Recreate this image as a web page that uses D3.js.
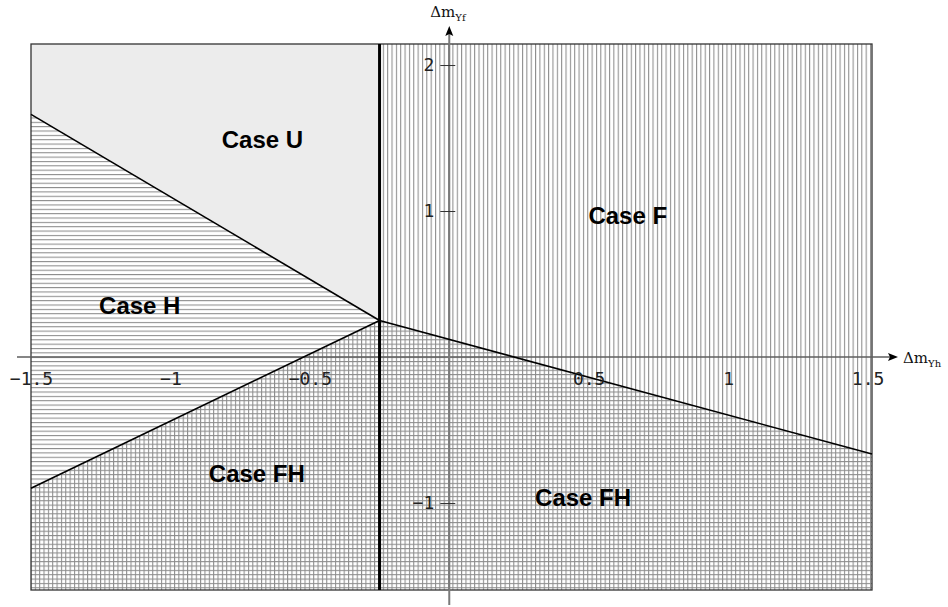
<!DOCTYPE html>
<html>
<head>
<meta charset="utf-8">
<script src="https://cdn.jsdelivr.net/npm/d3@7"></script>
<style>
  html, body { margin: 0; padding: 0; background: #fff; }
  svg { display: block; }
</style>
</head>
<body>
<svg id="chart" width="948" height="607"></svg>
<script>
// Plot window in data units
const xDomain = [-1.5, 1.516];
const yDomain = [-1.596, 2.144];

// Tick values
const xTicks = [-1.5, -1, -0.5, 0.5, 1, 1.5];
const yTicks = [-1, 1, 2];

// Vertical split between the left and right regions
const splitX = -0.25;
// Point where all boundaries meet
const corner = [-0.25, 0.25];
// Boundary lines (each runs from the plot edge to the corner point)
const upperLeftEdge = [[-1.5, 1.662], corner];
const lowerLeftEdge = [[-1.5, -0.899], corner];
const rightEdge = [corner, [1.516, -0.665]];

// Region labels, placed in data coordinates
const caseLabels = ["Case U", "Case F", "Case H", "Case FH", "Case FH"];
const caseLabelX = [-0.67, 0.64, -1.11, -0.69, 0.48];
const caseLabelY = [1.49, 0.97, 0.35, -0.80, -0.96];

const svg = d3.select("#chart");
const x = d3.scaleLinear().domain(xDomain).range([31, 872]);
const y = d3.scaleLinear().domain(yDomain).range([590, 44]);

const [x0, x1] = xDomain, [y0, y1] = yDomain;

// Hatch patterns
const defs = svg.append("defs");
const step = 4.35;
const hatchColor = "#8c8c8c";
function pattern(id, horiz, vert) {
  const p = defs.append("pattern").attr("id", id)
    .attr("patternUnits", "userSpaceOnUse")
    .attr("width", step).attr("height", step);
  p.append("rect").attr("width", step).attr("height", step).attr("fill", "#fff");
  if (horiz) p.append("line").attr("x1", 0).attr("x2", step).attr("y1", 0.5).attr("y2", 0.5)
    .attr("stroke", hatchColor).attr("stroke-width", 1.1);
  if (vert) p.append("line").attr("y1", 0).attr("y2", step).attr("x1", 0.5).attr("x2", 0.5)
    .attr("stroke", hatchColor).attr("stroke-width", 1.1);
}
pattern("hatchH", true, false);
pattern("hatchV", false, true);
pattern("hatchHV", true, true);

// Regions as polygons in data space
const regions = [
  { fill: "#ececec", pts: [[x0, y1], [splitX, y1], corner, upperLeftEdge[0]] },          // U
  { fill: "url(#hatchH)", pts: [upperLeftEdge[0], corner, lowerLeftEdge[0]] },          // H
  { fill: "url(#hatchHV)", pts: [lowerLeftEdge[0], corner, [splitX, y0], [x0, y0]] },   // FH left
  { fill: "url(#hatchV)", pts: [[splitX, y1], [x1, y1], rightEdge[1], corner] },        // F
  { fill: "url(#hatchHV)", pts: [corner, rightEdge[1], [x1, y0], [splitX, y0]] }        // FH right
];
const poly = d3.line().x(d => x(d[0])).y(d => y(d[1]));
svg.append("g").selectAll("path").data(regions).join("path")
  .attr("d", d => poly(d.pts) + "Z")
  .attr("fill", d => d.fill)
  .attr("stroke", "none");

// Plot border
svg.append("rect")
  .attr("x", x(x0)).attr("y", y(y1))
  .attr("width", x(x1) - x(x0)).attr("height", y(y0) - y(y1))
  .attr("fill", "none").attr("stroke", "#333").attr("stroke-width", 1.3);

// Axes through the origin
const axisColor = "#7a7a7a";
svg.append("line")
  .attr("x1", 17).attr("x2", 892).attr("y1", y(0)).attr("y2", y(0))
  .attr("stroke", "#5e5e5e").attr("stroke-width", 1.5);
svg.append("line")
  .attr("x1", x(0)).attr("x2", x(0)).attr("y1", 605).attr("y2", 33)
  .attr("stroke", axisColor).attr("stroke-width", 2);

// Arrow heads
svg.append("path")
  .attr("d", `M${898},${y(0)} L${888},${y(0) - 4} L${890},${y(0)} L${888},${y(0) + 4} Z`)
  .attr("fill", "#000");
svg.append("path")
  .attr("d", `M${x(0)},${26} L${x(0) - 4},${36} L${x(0)},${34} L${x(0) + 4},${36} Z`)
  .attr("fill", "#000");

// Boundary lines
svg.append("g").selectAll("path").data([upperLeftEdge, lowerLeftEdge, rightEdge]).join("path")
  .attr("d", d => poly(d))
  .attr("fill", "none").attr("stroke", "#000").attr("stroke-width", 1.6);

// Thick vertical split
svg.append("line")
  .attr("x1", x(splitX)).attr("x2", x(splitX)).attr("y1", y(y1)).attr("y2", y(y0))
  .attr("stroke", "#000").attr("stroke-width", 3);

// Tick labels via d3 axes
const tickFont = "'DejaVu Sans Mono', monospace";
const fmt = d3.format("");
const gx = svg.append("g").attr("transform", `translate(0,${y(0)})`)
  .call(d3.axisBottom(x).tickValues(xTicks).tickSize(0).tickPadding(15).tickFormat(fmt));
gx.select(".domain").remove();
gx.selectAll("text").attr("font-family", tickFont).attr("font-size", 18).attr("fill", "#222");

const gy = svg.append("g").attr("transform", `translate(${x(0)},0)`)
  .call(d3.axisLeft(y).tickValues(yTicks).tickSize(9).tickPadding(6).tickFormat(fmt));
gy.select(".domain").remove();
gy.selectAll("line").attr("x1", 6).attr("stroke", "#333").attr("stroke-width", 1);
gy.selectAll("text").attr("font-family", tickFont).attr("font-size", 18).attr("fill", "#222");

// Axis titles
const titleFont = "'DejaVu Serif', serif";
const tx = svg.append("text").attr("x", 903).attr("y", y(0) + 6)
  .attr("font-family", titleFont).attr("font-size", 15).attr("fill", "#111");
tx.append("tspan").text("Δm");
tx.append("tspan").attr("dy", 4).attr("font-size", 10).text("Yh");

const ty = svg.append("text").attr("x", x(0) - 19).attr("y", 17)
  .attr("font-family", titleFont).attr("font-size", 15).attr("fill", "#111");
ty.append("tspan").text("Δm");
ty.append("tspan").attr("dy", 4).attr("font-size", 10).text("Yf");

// Region labels
svg.append("g").selectAll("text").data(caseLabels).join("text")
  .attr("x", (d, i) => x(caseLabelX[i]))
  .attr("y", (d, i) => y(caseLabelY[i]))
  .attr("dy", "0.35em")
  .attr("text-anchor", "middle")
  .attr("font-family", "'Liberation Sans', Arial, sans-serif")
  .attr("font-weight", "bold")
  .attr("font-size", 24)
  .attr("fill", "#000")
  .text(d => d);
</script>
</body>
</html>
